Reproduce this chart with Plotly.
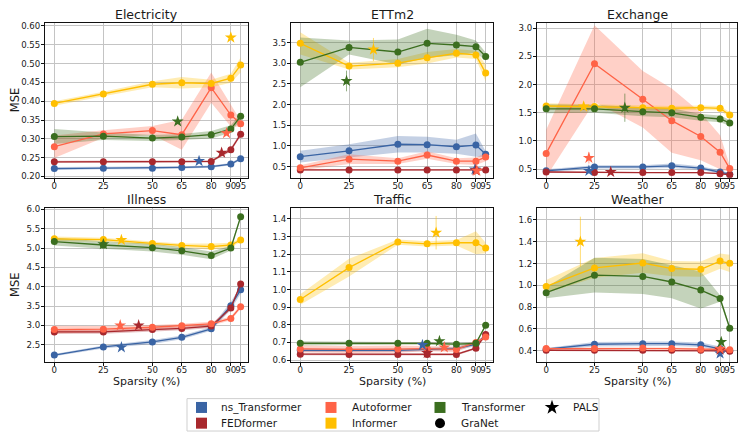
import plotly.graph_objects as go

W, H = 738, 436

SPARSITY = [0, 25, 50, 65, 80, 90, 95]
X_TICK_TEXT = ["0", "25", "50", "65", "80", "90", "95"]
MODELS = ["ns_Transformer", "FEDformer", "Autoformer", "Informer", "Transformer"]
COLORS = {
    "ns_Transformer": "#3a64a4",
    "FEDformer": "#a8282d",
    "Autoformer": "#ff6347",
    "Informer": "#ffbf00",
    "Transformer": "#3b6e1f",
}

# ---------------- Electricity ----------------
ELEC_MEAN = {
    "ns_Transformer": [0.221, 0.222, 0.222, 0.224, 0.226, 0.233, 0.247],
    "FEDformer": [0.239, 0.239, 0.239, 0.239, 0.240, 0.271, 0.312],
    "Autoformer": [0.279, 0.313, 0.322, 0.311, 0.436, 0.363, 0.340],
    "Informer": [0.394, 0.419, 0.445, 0.449, 0.447, 0.461, 0.496],
    "Transformer": [0.306, 0.307, 0.302, 0.305, 0.311, 0.326, 0.360],
}
ELEC_STD = {
    "ns_Transformer": [0.004, 0.003, 0.003, 0.003, 0.003, 0.003, 0.004],
    "FEDformer": [0.003, 0.003, 0.003, 0.003, 0.003, 0.005, 0.005],
    "Autoformer": [0.030, 0.010, 0.012, 0.040, 0.040, 0.030, 0.008],
    "Informer": [0.006, 0.006, 0.008, 0.015, 0.010, 0.012, 0.020],
    "Transformer": [0.020, 0.010, 0.008, 0.008, 0.010, 0.010, 0.008],
}
ELEC_PALS = {
    "ns_Transformer": (73.8, 0.241, 0.003),
    "FEDformer": (85.3, 0.263, 0.004),
    "Autoformer": (87.8, 0.315, 0.006),
    "Informer": (90.0, 0.569, 0.004),
    "Transformer": (62.9, 0.346, 0.004),
}

# ---------------- ETTm2 ----------------
ETT_MEAN = {
    "ns_Transformer": [0.74, 0.88, 1.04, 1.03, 0.98, 1.02, 0.80],
    "FEDformer": [0.42, 0.42, 0.42, 0.42, 0.42, 0.42, 0.42],
    "Autoformer": [0.47, 0.68, 0.63, 0.78, 0.63, 0.63, 0.73],
    "Informer": [3.48, 2.93, 3.00, 3.13, 3.24, 3.20, 2.76],
    "Transformer": [3.02, 3.38, 3.27, 3.48, 3.44, 3.40, 3.16],
}
ETT_STD = {
    "ns_Transformer": [0.14, 0.16, 0.20, 0.19, 0.17, 0.28, 0.07],
    "FEDformer": [0.02, 0.02, 0.02, 0.02, 0.02, 0.02, 0.02],
    "Autoformer": [0.06, 0.12, 0.07, 0.09, 0.07, 0.09, 0.10],
    "Informer": [0.27, 0.08, 0.10, 0.14, 0.10, 0.10, 0.20],
    "Transformer": [0.60, 0.17, 0.30, 0.35, 0.25, 0.15, 0.10],
}
ETT_PALS = {
    "ns_Transformer": (89.5, 0.43, 0.02),
    "FEDformer": (90.0, 0.41, 0.02),
    "Autoformer": (90.5, 0.40, 0.05),
    "Informer": (37.5, 3.33, 0.28),
    "Transformer": (23.7, 2.57, 0.25),
}

# ---------------- Exchange ----------------
EXCH_MEAN = {
    "ns_Transformer": [0.47, 0.54, 0.54, 0.56, 0.52, 0.45, 0.41],
    "FEDformer": [0.45, 0.44, 0.44, 0.44, 0.44, 0.42, 0.40],
    "Autoformer": [0.78, 2.37, 1.74, 1.36, 1.08, 0.80, 0.51],
    "Informer": [1.62, 1.61, 1.59, 1.58, 1.59, 1.58, 1.46],
    "Transformer": [1.57, 1.57, 1.52, 1.50, 1.42, 1.39, 1.32],
}
EXCH_STD = {
    "ns_Transformer": [0.03, 0.03, 0.03, 0.04, 0.03, 0.03, 0.02],
    "FEDformer": [0.01, 0.01, 0.01, 0.01, 0.01, 0.01, 0.01],
    "Autoformer": [0.42, 0.68, 0.50, 0.57, 0.42, 0.30, 0.06],
    "Informer": [0.05, 0.04, 0.04, 0.04, 0.04, 0.04, 0.05],
    "Transformer": [0.08, 0.07, 0.08, 0.08, 0.06, 0.06, 0.05],
}
EXCH_PALS = {
    "ns_Transformer": (22.1, 0.47, 0.02),
    "FEDformer": (33.4, 0.45, 0.01),
    "Autoformer": (22.1, 0.70, 0.10),
    "Informer": (19.4, 1.61, 0.02),
    "Transformer": (40.7, 1.59, 0.25),
}

# ---------------- Illness ----------------
ILL_MEAN = {
    "ns_Transformer": [2.23, 2.44, 2.57, 2.69, 2.91, 3.51, 3.92],
    "FEDformer": [2.83, 2.83, 2.89, 2.92, 2.98, 3.45, 4.07],
    "Autoformer": [2.89, 2.90, 2.95, 2.99, 3.04, 3.18, 3.48],
    "Informer": [5.24, 5.22, 5.12, 5.07, 5.04, 5.08, 5.21],
    "Transformer": [5.17, 5.08, 5.01, 4.93, 4.81, 5.00, 5.81],
}
ILL_STD = {
    "ns_Transformer": [0.03, 0.04, 0.05, 0.05, 0.05, 0.10, 0.10],
    "FEDformer": [0.05, 0.05, 0.05, 0.05, 0.05, 0.05, 0.05],
    "Autoformer": [0.10, 0.08, 0.06, 0.05, 0.05, 0.05, 0.05],
    "Informer": [0.06, 0.05, 0.05, 0.05, 0.08, 0.06, 0.05],
    "Transformer": [0.10, 0.10, 0.10, 0.10, 0.10, 0.06, 0.05],
}
ILL_PALS = {
    "ns_Transformer": (34.2, 2.43, 0.03),
    "FEDformer": (43.0, 3.00, 0.03),
    "Autoformer": (33.6, 3.00, 0.03),
    "Informer": (34.2, 5.21, 0.03),
    "Transformer": (25.0, 5.10, 0.03),
}

# ---------------- Traffic ----------------
TRAF_MEAN = {
    "ns_Transformer": [0.655, 0.655, 0.655, 0.660, 0.665, 0.690, 0.740],
    "FEDformer": [0.633, 0.632, 0.632, 0.632, 0.632, 0.667, 0.745],
    "Autoformer": [0.663, 0.660, 0.662, 0.665, 0.660, 0.700, 0.730],
    "Informer": [0.943, 1.124, 1.269, 1.259, 1.265, 1.265, 1.235],
    "Transformer": [0.695, 0.695, 0.695, 0.695, 0.690, 0.695, 0.797],
}
TRAF_STD = {
    "ns_Transformer": [0.010, 0.010, 0.010, 0.010, 0.010, 0.010, 0.010],
    "FEDformer": [0.006, 0.006, 0.006, 0.006, 0.006, 0.006, 0.006],
    "Autoformer": [0.020, 0.020, 0.020, 0.015, 0.015, 0.010, 0.010],
    "Informer": [0.030, 0.050, 0.015, 0.015, 0.015, 0.065, 0.030],
    "Transformer": [0.012, 0.008, 0.008, 0.008, 0.008, 0.008, 0.008],
}
TRAF_PALS = {
    "ns_Transformer": (62.6, 0.685, 0.005),
    "FEDformer": (65.0, 0.640, 0.005),
    "Autoformer": (73.8, 0.672, 0.005),
    "Informer": (69.6, 1.322, 0.095),
    "Transformer": (71.3, 0.707, 0.005),
}

# ---------------- Weather ----------------
WEAT_MEAN = {
    "ns_Transformer": [0.415, 0.460, 0.465, 0.465, 0.455, 0.420, 0.400],
    "FEDformer": [0.405, 0.405, 0.405, 0.405, 0.405, 0.400, 0.395],
    "Autoformer": [0.420, 0.420, 0.425, 0.420, 0.415, 0.410, 0.410],
    "Informer": [0.990, 1.160, 1.205, 1.154, 1.148, 1.223, 1.202],
    "Transformer": [0.933, 1.094, 1.082, 1.031, 0.957, 0.879, 0.607],
}
WEAT_STD = {
    "ns_Transformer": [0.010, 0.020, 0.020, 0.020, 0.020, 0.020, 0.010],
    "FEDformer": [0.005, 0.005, 0.005, 0.005, 0.005, 0.005, 0.005],
    "Autoformer": [0.010, 0.010, 0.010, 0.010, 0.010, 0.010, 0.010],
    "Informer": [0.060, 0.090, 0.090, 0.070, 0.070, 0.070, 0.080],
    "Transformer": [0.050, 0.160, 0.160, 0.150, 0.170, 0.030, 0.020],
}
WEAT_PALS = {
    "ns_Transformer": (90.0, 0.375, 0.02),
    "FEDformer": (90.0, 0.410, 0.01),
    "Autoformer": (90.0, 0.420, 0.01),
    "Informer": (17.7, 1.400, 0.23),
    "Transformer": (90.6, 0.480, 0.02),
}

DATASETS = [
    ("Electricity", ELEC_MEAN, ELEC_STD, ELEC_PALS),
    ("ETTm2", ETT_MEAN, ETT_STD, ETT_PALS),
    ("Exchange", EXCH_MEAN, EXCH_STD, EXCH_PALS),
    ("Illness", ILL_MEAN, ILL_STD, ILL_PALS),
    ("Traffic", TRAF_MEAN, TRAF_STD, TRAF_PALS),
    ("Weather", WEAT_MEAN, WEAT_STD, WEAT_PALS),
]

# ---------------- layout config ----------------
Y_RANGES = [[0.1966, 0.6086], [0.23, 3.98], [0.348, 3.098],
            [2.056, 6.033], [0.59, 1.461], [0.299, 1.708]]
Y_DTICK = [0.05, 0.5, 0.5, 0.5, 0.1, 0.2]
Y_FMT = [".2f", ".1f", ".1f", ".1f", ".1f", ".1f"]

COL_PX = [(45, 248), (291, 493), (537, 737)]
ROW_PX = [(19, 177), (208, 364.5)]

FONT = "DejaVu Sans"
TXT = "#1a1a1a"


def px_x(p):
    return p / W


def px_y(p):
    return 1 - p / H


def rgba(hexc, a):
    h = hexc.lstrip("#")
    r, g, b = int(h[0:2], 16), int(h[2:4], 16), int(h[4:6], 16)
    return f"rgba({r},{g},{b},{a})"


fig = go.Figure()
layout = {}
annotations = []

for i, (name, mean, std, pals) in enumerate(DATASETS):
    r, c = divmod(i, 3)
    n = i + 1
    xa = "x" if n == 1 else f"x{n}"
    ya = "y" if n == 1 else f"y{n}"
    xkey = "xaxis" if n == 1 else f"xaxis{n}"
    ykey = "yaxis" if n == 1 else f"yaxis{n}"
    x0, x1 = COL_PX[c]
    y0, y1 = ROW_PX[r]
    layout[xkey] = dict(
        domain=[px_x(x0), px_x(x1)], anchor=ya, range=[-4.75, 98.75],
        tickmode="array", tickvals=SPARSITY, ticktext=X_TICK_TEXT, tickangle=0,
        showgrid=True, gridcolor="#c4c4c4", gridwidth=1.2, zeroline=False,
        showline=True, linecolor="#111", linewidth=1, mirror=True,
        ticks="outside", ticklen=3, tickcolor="#111", ticklabelstandoff=-3,
        tickfont=dict(family=FONT, size=8.6, color=TXT),
    )
    layout[ykey] = dict(
        domain=[px_y(y1), px_y(y0)], anchor=xa, range=Y_RANGES[i],
        tick0=0, dtick=Y_DTICK[i], tickformat=Y_FMT[i],
        showgrid=True, gridcolor="#c4c4c4", gridwidth=1.2, zeroline=False,
        showline=True, linecolor="#111", linewidth=1, mirror=True,
        ticks="outside", ticklen=3, tickcolor="#111", ticklabelstandoff=-1,
        tickfont=dict(family=FONT, size=8.6, color=TXT),
    )
    # title
    annotations.append(dict(
        text=name, x=px_x((x0 + x1) / 2), y=px_y(y0 - 8.5), xref="paper", yref="paper",
        showarrow=False, xanchor="center", yanchor="middle",
        font=dict(family=FONT, size=12.5, color=TXT)))
    if c == 0:
        annotations.append(dict(
            text="MSE", x=px_x(15), y=px_y((y0 + y1) / 2), xref="paper", yref="paper",
            showarrow=False, textangle=-90, xanchor="center", yanchor="middle",
            font=dict(family=FONT, size=11.5, color=TXT)))
    if r == 1:
        annotations.append(dict(
            text="Sparsity (%)", x=px_x((x0 + x1) / 2), y=px_y(385), xref="paper", yref="paper",
            showarrow=False, xanchor="center", yanchor="middle",
            font=dict(family=FONT, size=11, color=TXT)))

    # bands
    for m in MODELS:
        up = [a + b for a, b in zip(mean[m], std[m])]
        lo = [a - b for a, b in zip(mean[m], std[m])]
        fig.add_trace(go.Scatter(
            x=SPARSITY + SPARSITY[::-1], y=up + lo[::-1], fill="toself",
            fillcolor=rgba(COLORS[m], 0.3), line=dict(width=0), mode="lines",
            xaxis=xa, yaxis=ya, hoverinfo="skip", showlegend=False))
    # GraNet lines
    for m in MODELS:
        fig.add_trace(go.Scatter(
            x=SPARSITY, y=mean[m], mode="lines+markers",
            line=dict(color=COLORS[m], width=1.3),
            marker=dict(color=COLORS[m], size=7, symbol="circle"),
            xaxis=xa, yaxis=ya, name=m, showlegend=False))
    # PALS stars
    for m in MODELS:
        sx, sy, se = pals[m]
        fig.add_trace(go.Scatter(
            x=[sx], y=[sy], mode="markers",
            marker=dict(color=COLORS[m], size=9, symbol="star", line=dict(width=0)),
            error_y=dict(type="data", array=[se], color=rgba(COLORS[m], 0.55),
                         thickness=1, width=0),
            xaxis=xa, yaxis=ya, name=m + " PALS", showlegend=False))

# ---------------- legend (manual) ----------------
layout["xaxis7"] = dict(domain=[0, 1], range=[0, W], visible=False, anchor="y7", fixedrange=True)
layout["yaxis7"] = dict(domain=[0, 1], range=[H, 0], visible=False, anchor="x7", fixedrange=True)

LEG_ITEMS = [
    ("ns_Transformer", 201.5, 411, "square", COLORS["ns_Transformer"], 219),
    ("FEDformer", 201.5, 427, "square", COLORS["FEDformer"], 219),
    ("Autoformer", 331, 411, "square", COLORS["Autoformer"], 350),
    ("Informer", 331, 427, "square", COLORS["Informer"], 350),
    ("Transformer", 440, 411, "square", COLORS["Transformer"], 459),
    ("GraNet", 440, 427, "circle", "#000000", 459),
    ("PALS", 552, 411, "star", "#000000", 570.5),
]
for label, mx, my, sym, col, tx in LEG_ITEMS:
    fig.add_trace(go.Scatter(
        x=[mx], y=[my], mode="markers",
        marker=dict(symbol=sym, size=11 if sym != "circle" else 10, color=col, line=dict(width=0)),
        xaxis="x7", yaxis="y7", hoverinfo="skip", showlegend=False))
    annotations.append(dict(
        text=label, x=px_x(tx), y=px_y(my), xref="paper", yref="paper",
        showarrow=False, xanchor="left", yanchor="middle",
        font=dict(family=FONT, size=10.5, color=TXT)))

shapes = [dict(type="rect", xref="paper", yref="paper",
               x0=px_x(187), x1=px_x(599), y0=px_y(435), y1=px_y(402),
               line=dict(color="#cfcfcf", width=1), fillcolor="rgba(255,255,255,0)",
               layer="below")]

fig.update_layout(
    width=W, height=H, margin=dict(l=0, r=0, t=0, b=0),
    paper_bgcolor="white", plot_bgcolor="rgba(0,0,0,0)",
    showlegend=False, annotations=annotations, shapes=shapes,
    **layout,
)

fig.write_html("out.html")
